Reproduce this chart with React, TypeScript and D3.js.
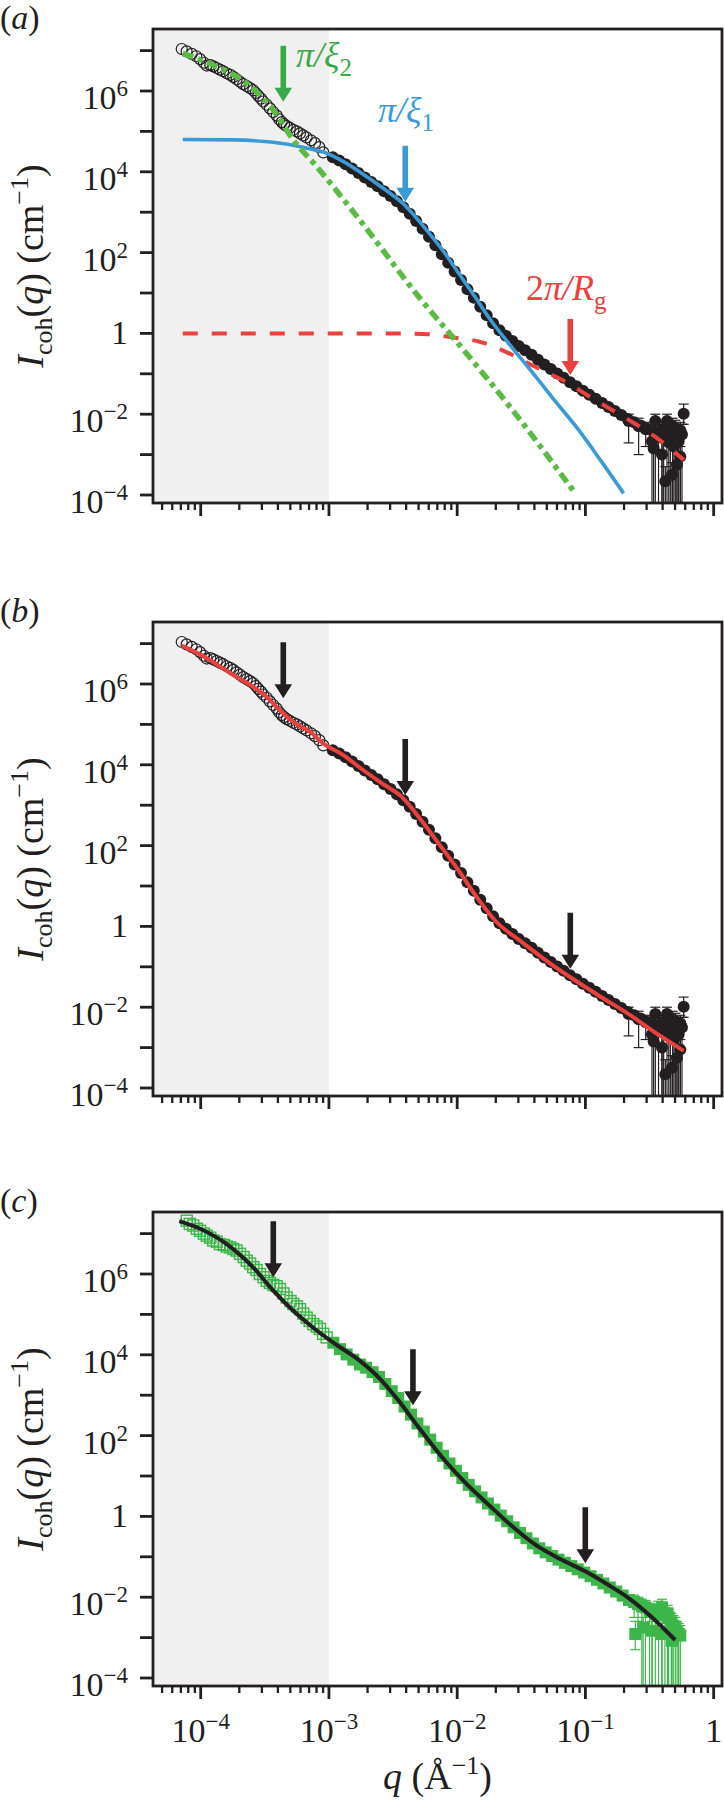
import React from "react";
import * as d3 from "d3";

// ---- axis ranges, in log10 units ----
const qLogRange = [-4.372, 0.065];
const iLogRange = [-4.198, 7.535];
const shadeEndLogQ = -3;

const xMajorExps = [-4, -3, -2, -1, 0];
const yTickExps = [-4, -3, -2, -1, 0, 1, 2, 3, 4, 5, 6, 7];
const yLabelExps = [-4, -2, 0, 2, 4, 6];

// ---- measured data shared by panels (a) and (b) (log10 q, log10 I) ----
const openLogQ = [-4.148, -4.11, -4.07, -4.035, -4.005, -3.975, -3.953, -3.925, -3.902, -3.875, -3.85, -3.825, -3.797, -3.77, -3.746, -3.72, -3.694, -3.668, -3.641, -3.615, -3.59, -3.57, -3.551, -3.53, -3.512, -3.485, -3.46, -3.435, -3.407, -3.388, -3.368, -3.35, -3.329, -3.305, -3.278, -3.25, -3.226, -3.2, -3.174, -3.14, -3.109, -3.075, -3.044];
const openLogI = [7.04, 6.98, 6.92, 6.86, 6.79, 6.7, 6.63, 6.64, 6.61, 6.57, 6.53, 6.49, 6.44, 6.4, 6.35, 6.29, 6.23, 6.17, 6.12, 6.07, 6.02, 5.95, 5.88, 5.81, 5.74, 5.66, 5.57, 5.48, 5.39, 5.3, 5.23, 5.18, 5.13, 5.09, 5.04, 5.0, 4.95, 4.9, 4.85, 4.78, 4.71, 4.61, 4.48];

const filledLogQ = [-2.97, -2.92, -2.87, -2.82, -2.77, -2.72, -2.67, -2.62, -2.57, -2.52, -2.47, -2.42, -2.37, -2.32, -2.27, -2.22, -2.17, -2.12, -2.07, -2.02, -1.97, -1.92, -1.87, -1.82, -1.77, -1.72, -1.67, -1.62, -1.57, -1.52, -1.47, -1.42, -1.37, -1.32, -1.27, -1.22, -1.17, -1.12, -1.07, -1.02, -0.97, -0.92, -0.87, -0.82, -0.77, -0.72, -0.67, -0.62, -0.57, -0.52, -0.47];
const filledLogI = [4.36, 4.28, 4.19, 4.08, 3.97, 3.86, 3.75, 3.64, 3.52, 3.4, 3.27, 3.12, 2.96, 2.78, 2.59, 2.39, 2.18, 1.96, 1.75, 1.53, 1.32, 1.09, 0.88, 0.66, 0.45, 0.25, 0.08, -0.06, -0.19, -0.31, -0.42, -0.53, -0.65, -0.77, -0.88, -0.99, -1.1, -1.21, -1.31, -1.42, -1.52, -1.62, -1.72, -1.82, -1.92, -2.02, -2.12, -2.2, -2.28, -2.36, -2.44];

const tailLogQ = [-0.663, -0.585, -0.53, -0.481, -0.468, -0.455, -0.43, -0.403, -0.39, -0.364, -0.35, -0.338, -0.32, -0.31, -0.299, -0.286, -0.273, -0.26, -0.247, -0.234, -0.403, -0.377, -0.325, -0.286, -0.26];
const tailLogI = [-2.17, -2.3, -2.37, -2.67, -2.85, -2.17, -2.45, -2.38, -2.6, -2.17, -2.7, -2.54, -2.3, -2.8, -2.34, -2.55, -2.67, -2.4, -2.5, -1.99, -3.0, -3.66, -3.5, -3.25, -3.05];
const tailErrLo = [-2.71, -3.0, -2.8, -5, -5, -5, -5, -5, -5, -5, -5, -5, -5, -5, -5, -5, -5, -5, -5, -2.25, -5, -5, -5, -5, -5];
const tailErrHi = [-2.0, -2.1, -2.2, -2.45, -2.6, -2.0, -2.25, -2.2, -2.4, -2.0, -2.45, -2.3, -2.1, -2.55, -2.15, -2.3, -2.4, -2.2, -2.25, -1.75, -2.7, -3.3, -3.2, -2.95, -2.8];

// ---- panel (a) model curves ----
const xi2LogQ = [-4.14, -3.902, -3.641, -3.434, -3.278, -3.096, -2.758, -2.288, -1.963, -1.573, -1.079];
const xi2LogI = [6.93, 6.64, 6.19, 5.53, 4.79, 4.13, 2.8, 0.86, -0.36, -1.88, -3.96];
const xi1LogQ = [-4.14, -3.75, -3.5, -3.28, -3.15, -3.018, -2.88, -2.742, -2.58, -2.407, -2.25, -2.095, -1.98, -1.86, -1.755, -1.6, -1.443, -1.25, -1.053, -0.88, -0.702];
const xi1LogI = [4.8, 4.79, 4.75, 4.66, 4.57, 4.46, 4.24, 3.96, 3.6, 3.17, 2.6, 1.98, 1.45, 0.9, 0.4, -0.24, -0.85, -1.62, -2.39, -3.15, -3.96];
const rgLogQ = [-4.14, -3.5, -2.742, -2.5, -2.222, -2.017, -1.832, -1.625, -1.39, -1.183, -0.923, -0.663, -0.455, -0.234];
const rgLogI = [0, 0, 0, 0, -0.02, -0.11, -0.2, -0.45, -0.83, -1.15, -1.65, -2.14, -2.56, -3.13];

// ---- panel (b) full fit ----
const fitBLogQ = [-4.148, -3.953, -3.746, -3.59, -3.485, -3.382, -3.278, -3.148, -3.044, -2.888, -2.742, -2.586, -2.43, -2.3, -2.144, -1.988, -1.86, -1.703, -1.495, -1.287, -1.079, -0.871, -0.663, -0.455, -0.234];
const fitBLogI = [6.95, 6.64, 6.22, 5.93, 5.68, 5.35, 5.06, 4.82, 4.53, 4.24, 3.89, 3.54, 3.2, 2.71, 2.05, 1.38, 0.78, 0.14, -0.39, -0.89, -1.34, -1.76, -2.17, -2.63, -3.08];

// ---- panel (c) data and fit ----
const cOpenLogQ = [-4.109, -4.085, -4.058, -4.03, -4.005, -3.975, -3.953, -3.925, -3.902, -3.875, -3.85, -3.82, -3.797, -3.77, -3.746, -3.72, -3.694, -3.665, -3.641, -3.615, -3.59, -3.565, -3.538, -3.51, -3.485, -3.46, -3.434, -3.408, -3.382, -3.355, -3.329, -3.3, -3.278, -3.25, -3.226, -3.2, -3.174, -3.15, -3.122, -3.095, -3.07, -3.045, -3.018];
const cOpenLogI = [7.32, 7.24, 7.2, 7.12, 7.07, 7.0, 6.95, 6.9, 6.83, 6.8, 6.74, 6.72, 6.68, 6.66, 6.62, 6.58, 6.5, 6.42, 6.33, 6.26, 6.17, 6.1, 6.0, 5.92, 5.83, 5.78, 5.73, 5.7, 5.63, 5.52, 5.42, 5.33, 5.26, 5.2, 5.13, 5.02, 4.92, 4.84, 4.76, 4.7, 4.64, 4.52, 4.43];
const cFilledLogQ = [-2.966, -2.914, -2.862, -2.81, -2.758, -2.71, -2.66, -2.61, -2.56, -2.51, -2.46, -2.41, -2.36, -2.31, -2.26, -2.21, -2.16, -2.11, -2.06, -2.01, -1.96, -1.91, -1.86, -1.81, -1.76, -1.71, -1.66, -1.61, -1.56, -1.51, -1.46, -1.41, -1.36, -1.31, -1.26, -1.21, -1.16, -1.11, -1.06, -1.01, -0.96, -0.91, -0.86, -0.81, -0.76, -0.71, -0.66];
const cFilledLogI = [4.3, 4.14, 4.01, 3.88, 3.76, 3.68, 3.57, 3.45, 3.28, 3.1, 2.93, 2.72, 2.52, 2.3, 2.1, 1.9, 1.7, 1.5, 1.31, 1.13, 0.95, 0.78, 0.62, 0.47, 0.32, 0.17, 0.02, -0.12, -0.27, -0.41, -0.54, -0.67, -0.79, -0.89, -0.98, -1.07, -1.15, -1.23, -1.31, -1.39, -1.48, -1.57, -1.66, -1.76, -1.86, -1.96, -2.07];
const cTailLogQ = [-0.62, -0.59, -0.56, -0.533, -0.5, -0.48, -0.455, -0.43, -0.403, -0.38, -0.36, -0.351, -0.33, -0.315, -0.299, -0.285, -0.273, -0.26, -0.325, -0.403, -0.481, -0.611, -0.55];
const cTailLogI = [-2.12, -2.17, -2.22, -2.25, -2.33, -2.36, -2.41, -2.3, -2.25, -2.45, -2.4, -2.5, -2.62, -2.7, -2.75, -2.85, -2.91, -2.95, -3.08, -2.91, -2.83, -2.91, -2.75];
const cTailErrLo = [-2.5, -2.6, -5, -5, -5, -5, -5, -5, -5, -5, -5, -5, -5, -5, -5, -5, -5, -5, -5, -5, -5, -3.3, -5];
const cTailErrHi = [-1.95, -2.0, -2.05, -2.08, -2.15, -2.18, -2.2, -2.1, -2.05, -2.25, -2.2, -2.3, -2.4, -2.45, -2.5, -2.6, -2.65, -2.7, -2.8, -2.65, -2.6, -2.6, -2.5];
const fitCLogQ = [-4.167, -4.005, -3.797, -3.59, -3.434, -3.278, -3.122, -2.966, -2.758, -2.6, -2.456, -2.3, -2.093, -1.92, -1.755, -1.58, -1.391, -1.2, -1.001, -0.83, -0.663, -0.48, -0.3];
const fitCLogI = [7.31, 7.12, 6.74, 6.16, 5.59, 5.09, 4.67, 4.3, 3.85, 3.4, 2.86, 2.2, 1.37, 0.78, 0.29, -0.22, -0.7, -1.05, -1.36, -1.68, -2.02, -2.5, -3.06];

// ---- arrows (log10 q, log10 I of the tip) ----
const arrowALogQ = [-3.356, -2.405, -1.118];
const arrowALogI = [5.735, 3.26, -1.03];
const arrowBLogQ = [-3.356, -2.405, -1.118];
const arrowBLogI = [5.65, 3.25, -1.05];
const arrowCLogQ = [-3.434, -2.345, -1.001];
const arrowCLogI = [5.92, 2.75, -1.16];

// ---- look ----
const FONT = "'Liberation Serif', 'Times New Roman', Times, serif";
const INK = "#231f20";
const SHADE = "#f0f0f0";
const GREEN = "#3aaa48";
const GREEN_LINE = "#5dba47";
const BLUE = "#3b9ad6";
const RED = "#e8413f";
const SQ_GREEN = "#3db54a";

const LEFT = 153;
const RIGHT = 722;
const PANEL_H = 474;
const PANEL_TOPS = [29, 622, 1212];
const TICK_FONT = 34;
const LABEL_FONT = 38;

const pw = (v: number) => Math.pow(10, v);
const idx = (a: number[], b: number[]) => d3.range(Math.min(a.length, b.length));

function expLabel(e: number, supSize: number, rise: number) {
  if (e === 0) return "1";
  return (
    <>
      10
      <tspan dy={-rise} fontSize={supSize}>
        {e < 0 ? `\u2212${-e}` : `${e}`}
      </tspan>
    </>
  );
}

function Arrow({ x, y, color }: { x: number; y: number; color: string }) {
  const L = 56, sw = 2.8, hw = 8.8, hl = 14;
  const pts = [
    [x - sw, y - L], [x + sw, y - L], [x + sw, y - hl], [x + hw, y - hl],
    [x, y], [x - hw, y - hl], [x - sw, y - hl],
  ];
  return <polygon points={pts.map((p) => p.join(",")).join(" ")} fill={color} />;
}

function Panel({ n }: { n: number }) {
  const top = PANEL_TOPS[n];
  const bottom = top + PANEL_H;
  const x = d3.scaleLog().domain([pw(qLogRange[0]), pw(qLogRange[1])]).range([LEFT, RIGHT]);
  const y = d3.scaleLog().domain([pw(iLogRange[0]), pw(iLogRange[1])]).range([bottom, top]);
  const px = (lq: number) => x(pw(lq));
  const py = (li: number) => y(pw(li));
  const path = (lq: number[], li: number[]) =>
    d3.line<number>().x((k) => px(lq[k])).y((k) => py(li[k])).curve(d3.curveMonotoneX)(idx(lq, li)) || "";

  const minor: number[] = [];
  for (let e = -5; e <= 0; e++) {
    for (let k = 2; k <= 9; k++) {
      const v = Math.log10(k) + e;
      if (v > qLogRange[0] && v < qLogRange[1]) minor.push(v);
    }
  }
  const clip = `clip-${n}`;
  const letter = ["a", "b", "c"][n];
  const arrowsQ = [arrowALogQ, arrowBLogQ, arrowCLogQ][n];
  const arrowsI = [arrowALogI, arrowBLogI, arrowCLogI][n];
  const arrowColors = n === 0 ? [GREEN, BLUE, RED] : [INK, INK, INK];

  const errBars = (lq: number[], lo: number[], hi: number[], color: string) =>
    idx(lq, lo).map((k) => (
      <g key={`e${k}`} stroke={color} strokeWidth={1.2}>
        <line x1={px(lq[k])} x2={px(lq[k])} y1={py(lo[k])} y2={py(hi[k])} />
        <line x1={px(lq[k]) - 5} x2={px(lq[k]) + 5} y1={py(lo[k])} y2={py(lo[k])} />
        <line x1={px(lq[k]) - 5} x2={px(lq[k]) + 5} y1={py(hi[k])} y2={py(hi[k])} />
      </g>
    ));

  return (
    <g>
      <defs>
        <clipPath id={clip}>
          <rect x={LEFT} y={top} width={RIGHT - LEFT} height={PANEL_H} />
        </clipPath>
      </defs>
      <rect x={LEFT} y={top} width={px(shadeEndLogQ) - LEFT} height={PANEL_H} fill={SHADE} />

      <g clipPath={`url(#${clip})`}>
        {n < 2 ? (
          <>
            {errBars(tailLogQ, tailErrLo, tailErrHi, INK)}
            {idx(openLogQ, openLogI).map((k) => (
              <circle key={`o${k}`} cx={px(openLogQ[k])} cy={py(openLogI[k])} r={5.5} fill="none" stroke={INK} strokeWidth={1.2} />
            ))}
            {idx(filledLogQ, filledLogI).map((k) => (
              <circle key={`f${k}`} cx={px(filledLogQ[k])} cy={py(filledLogI[k])} r={6} fill={INK} />
            ))}
            {idx(tailLogQ, tailLogI).map((k) => (
              <circle key={`t${k}`} cx={px(tailLogQ[k])} cy={py(tailLogI[k])} r={6} fill={INK} />
            ))}
          </>
        ) : (
          <>
            {errBars(cTailLogQ, cTailErrLo, cTailErrHi, SQ_GREEN)}
            {idx(cOpenLogQ, cOpenLogI).map((k) => (
              <rect key={`o${k}`} x={px(cOpenLogQ[k]) - 5.5} y={py(cOpenLogI[k]) - 5.5} width={11} height={11} fill="none" stroke={SQ_GREEN} strokeWidth={1.4} />
            ))}
            {idx(cFilledLogQ, cFilledLogI).map((k) => (
              <rect key={`f${k}`} x={px(cFilledLogQ[k]) - 6} y={py(cFilledLogI[k]) - 6} width={12} height={12} fill={SQ_GREEN} />
            ))}
            {idx(cTailLogQ, cTailLogI).map((k) => (
              <rect key={`t${k}`} x={px(cTailLogQ[k]) - 6} y={py(cTailLogI[k]) - 6} width={12} height={12} fill={SQ_GREEN} />
            ))}
          </>
        )}

        {n === 0 && (
          <>
            <path d={path(rgLogQ, rgLogI)} fill="none" stroke={RED} strokeWidth={4} strokeDasharray="15 14" />
            <path d={path(xi1LogQ, xi1LogI)} fill="none" stroke={BLUE} strokeWidth={3.6} />
            <path d={path(xi2LogQ, xi2LogI)} fill="none" stroke={GREEN_LINE} strokeWidth={5.5} strokeDasharray="11 5 5 5" />
          </>
        )}
        {n === 1 && <path d={path(fitBLogQ, fitBLogI)} fill="none" stroke={RED} strokeWidth={4} />}
        {n === 2 && <path d={path(fitCLogQ, fitCLogI)} fill="none" stroke={INK} strokeWidth={4} />}
      </g>

      {arrowsQ.map((lq, k) => (
        <Arrow key={`a${k}`} x={px(lq)} y={py(arrowsI[k])} color={arrowColors[k]} />
      ))}

      {n === 0 && (
        <g fontFamily={FONT} fontSize={36} fontStyle="italic">
          <text x={296} y={67} fill={GREEN}>
            π/ξ<tspan fontSize={25} dy={9} fontStyle="normal">2</tspan>
          </text>
          <text x={378} y={122} fill={BLUE}>
            π/ξ<tspan fontSize={25} dy={9} fontStyle="normal">1</tspan>
          </text>
          <text x={526} y={300} fill={RED}>
            <tspan fontStyle="normal">2</tspan>π/R<tspan fontSize={25} dy={9} fontStyle="normal">g</tspan>
          </text>
        </g>
      )}

      {/* axes */}
      <g stroke={INK} strokeWidth={2.8}>
        {yTickExps.map((e) => (
          <line key={`yt${e}`} x1={LEFT - 13} x2={LEFT} y1={py(e)} y2={py(e)} />
        ))}
        {xMajorExps.map((e) => (
          <line key={`xt${e}`} x1={px(e)} x2={px(e)} y1={bottom} y2={bottom + 13} />
        ))}
        {minor.map((v, k) => (
          <line key={`xm${k}`} x1={px(v)} x2={px(v)} y1={bottom} y2={bottom + 7} strokeWidth={2.3} />
        ))}
        <rect x={LEFT} y={top} width={RIGHT - LEFT} height={PANEL_H} fill="none" />
      </g>

      <g fontFamily={FONT} fill={INK}>
        {yLabelExps.map((e) => (
          <text key={`yl${e}`} x={128} y={py(e) + (e === 0 ? 11 : 18)} textAnchor="end" fontSize={TICK_FONT}>
            {expLabel(e, 23, 13)}
          </text>
        ))}
        {n === 2 &&
          xMajorExps.map((e) => (
            <text key={`xl${e}`} x={px(e)} y={bottom + 56} textAnchor="middle" fontSize={TICK_FONT}>
              {expLabel(e, 23, 13)}
            </text>
          ))}
        <text x={0} y={top} fontSize={34}>
          (<tspan fontStyle="italic">{letter}</tspan>)
        </text>
        <text transform={`translate(43, ${top + PANEL_H / 2}) rotate(-90)`} textAnchor="middle" fontSize={LABEL_FONT}>
          <tspan fontStyle="italic">I</tspan>
          <tspan fontSize={26} dy={9}>coh</tspan>
          <tspan dy={-9}>(</tspan>
          <tspan fontStyle="italic">q</tspan>
          <tspan>) (cm</tspan>
          <tspan fontSize={26} dy={-15}>−1</tspan>
          <tspan dy={15}>)</tspan>
        </text>
        {n === 2 && (
          <text x={(LEFT + RIGHT) / 2} y={1789} textAnchor="middle" fontSize={LABEL_FONT}>
            <tspan fontStyle="italic">q</tspan>
            <tspan> (Å</tspan>
            <tspan fontSize={26} dy={-15}>−1</tspan>
            <tspan dy={15}>)</tspan>
          </text>
        )}
      </g>
    </g>
  );
}

export default function App() {
  return (
    <div style={{ position: "absolute", left: 0, top: 0 }}>
      <svg width={724} height={1800} style={{ display: "block", background: "#fff" }}>
        {[0, 1, 2].map((n) => (
          <Panel key={n} n={n} />
        ))}
      </svg>
    </div>
  );
}
